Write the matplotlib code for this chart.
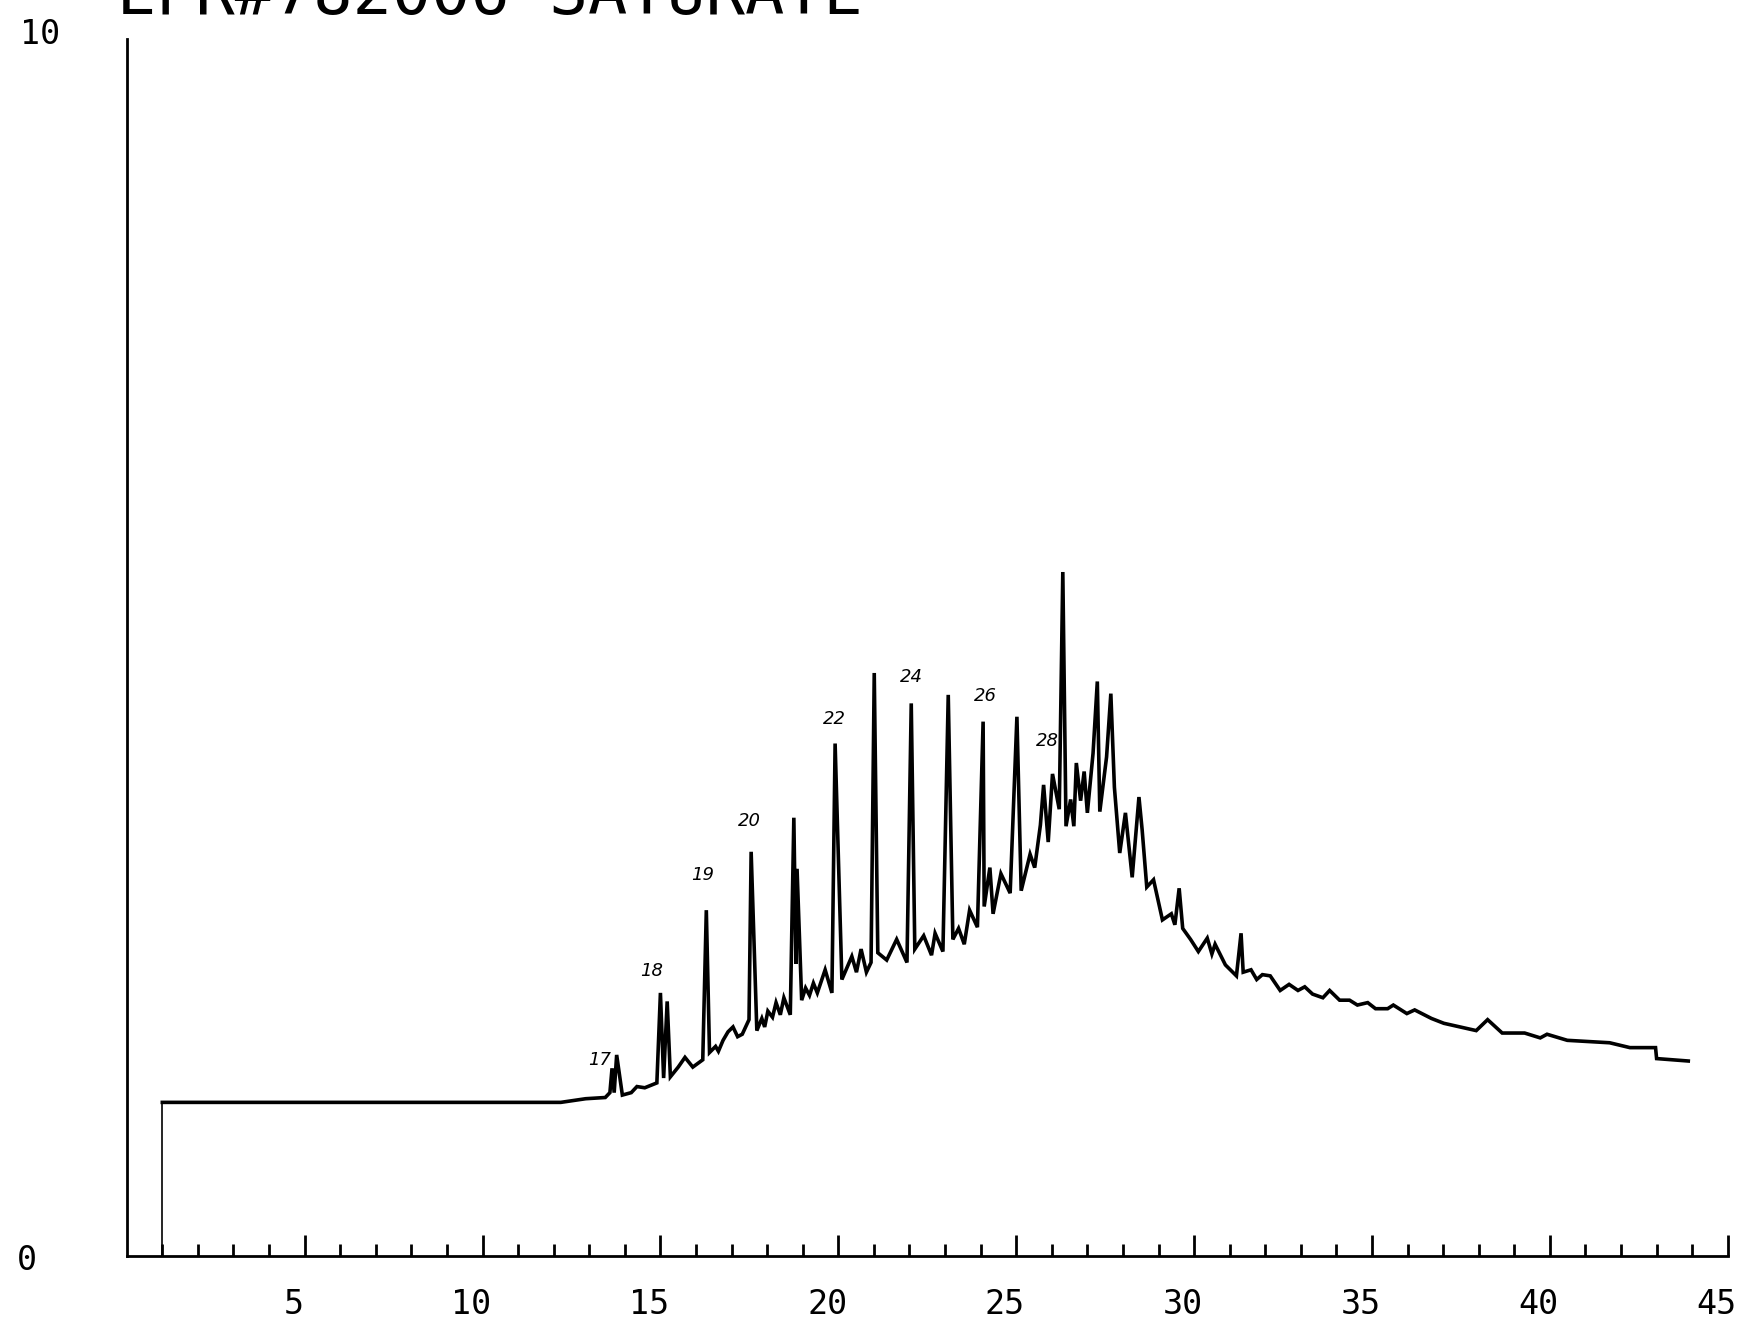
import matplotlib.pyplot as plt
from matplotlib.transforms import ScaledTranslation

# chromatogram trace (time, response)
times = [1.0, 1.0, 12.2, 12.9, 13.45, 13.58, 13.64, 13.7, 13.77, 13.93, 14.18, 14.34, 14.56, 14.9,
         15.0, 15.09, 15.19, 15.28, 15.5, 15.69, 15.91, 16.19, 16.29, 16.38, 16.55, 16.63, 16.76,
         16.9, 17.04, 17.17, 17.3, 17.49, 17.55, 17.71, 17.85, 17.93, 18.02, 18.15, 18.25, 18.37,
         18.47, 18.65, 18.75, 18.81, 18.84, 18.97, 19.08, 19.19, 19.3, 19.41, 19.63, 19.82, 19.91,
         20.1, 20.38, 20.51, 20.64, 20.79, 20.92, 21.01, 21.11, 21.36, 21.64, 21.93, 22.05, 22.15,
         22.4, 22.62, 22.72, 22.94, 23.09, 23.22, 23.38, 23.54, 23.69, 23.91, 24.07, 24.1, 24.26,
         24.35, 24.57, 24.83, 25.02, 25.14, 25.39, 25.52, 25.68, 25.77, 25.9, 26.02, 26.21, 26.31,
         26.4, 26.53, 26.62, 26.69, 26.81, 26.91, 27.0, 27.16, 27.28, 27.35, 27.54, 27.66, 27.76,
         27.91, 28.07, 28.26, 28.45, 28.54, 28.67, 28.86, 29.11, 29.36, 29.46, 29.58, 29.68, 29.9,
         30.12, 30.37, 30.5, 30.59, 30.88, 31.19, 31.32, 31.38, 31.6, 31.76, 31.92, 32.14, 32.42,
         32.67, 32.92, 33.11, 33.33, 33.62, 33.81, 34.09, 34.37, 34.59, 34.88, 35.1, 35.44, 35.6,
         35.98, 36.2, 36.67, 37.02, 37.93, 38.25, 38.66, 39.29, 39.73, 39.92, 40.49, 41.68, 42.25,
         42.97, 43.0, 43.89]
response = [0.0, 1.26, 1.26, 1.29, 1.30, 1.34, 1.54, 1.34, 1.65, 1.32, 1.34, 1.39, 1.38, 1.42,
            2.16, 1.46, 2.09, 1.47, 1.55, 1.63, 1.55, 1.61, 2.84, 1.67, 1.72, 1.68, 1.77,
            1.84, 1.88, 1.80, 1.82, 1.94, 3.32, 1.85, 1.95, 1.88, 2.01, 1.96, 2.08, 1.98,
            2.12, 1.98, 3.60, 2.40, 3.18, 2.10, 2.20, 2.14, 2.24, 2.16, 2.35, 2.16, 4.21,
            2.27, 2.46, 2.33, 2.52, 2.33, 2.41, 4.79, 2.49, 2.43, 2.60, 2.41, 4.54, 2.52,
            2.63, 2.47, 2.65, 2.50, 4.61, 2.60, 2.69, 2.56, 2.84, 2.70, 4.39, 2.87, 3.19,
            2.81, 3.14, 2.98, 4.43, 3.00, 3.30, 3.19, 3.54, 3.87, 3.40, 3.96, 3.67, 5.62,
            3.53, 3.75, 3.53, 4.05, 3.74, 3.98, 3.64, 4.13, 4.72, 3.65, 4.10, 4.62, 3.85,
            3.31, 3.64, 3.11, 3.77, 3.50, 3.03, 3.09, 2.76, 2.81, 2.72, 3.02, 2.69, 2.60,
            2.50, 2.61, 2.48, 2.56, 2.39, 2.30, 2.65, 2.33, 2.35, 2.27, 2.31, 2.30, 2.18,
            2.23, 2.18, 2.21, 2.15, 2.12, 2.18, 2.10, 2.10, 2.06, 2.08, 2.03, 2.03, 2.06,
            1.99, 2.02, 1.95, 1.91, 1.85, 1.94, 1.83, 1.83, 1.79, 1.82, 1.77, 1.75, 1.71,
            1.71, 1.62, 1.60]

# hand written carbon numbers above the n-alkane peaks
peak_names = ['17', '18', '19', '20', '22', '24', '26', '28']
peak_x = [13.3, 14.74, 16.19, 17.49, 19.88, 22.05, 24.13, 25.87]
peak_y = [1.61, 2.34, 3.13, 3.57, 4.41, 4.76, 4.60, 4.23]

x_ticks = [5, 10, 15, 20, 25, 30, 35, 40, 45]
title = 'EPR#782006 SATURATE'
mono = 'DejaVu Sans Mono'

fig = plt.figure(figsize=(17.58, 13.29), dpi=100)
ax = fig.add_axes([0.0721, 0.0552, 0.9107, 0.9153])

# thin injection step, then the trace itself
ax.plot(times[:2], response[:2], color='black', lw=1.2)
ax.plot(times[1:], response[1:], color='black', lw=2.6, solid_joinstyle='miter')

for name, px, py in zip(peak_names, peak_x, peak_y):
    ax.text(px, py, name, fontsize=13, style='italic', ha='center', va='center')

ax.set_xlim(0, 45)
ax.set_ylim(0, 10)
for side in ['top', 'right']:
    ax.spines[side].set_visible(False)
for side in ['left', 'bottom']:
    ax.spines[side].set_linewidth(2)

ax.set_xticks(x_ticks)
ax.set_xticks(range(1, 45), minor=True)
ax.set_xticklabels([str(t) for t in x_ticks], family=mono, fontsize=24)
ax.tick_params(axis='x', which='major', direction='in', length=15, width=2, pad=23)
ax.tick_params(axis='x', which='minor', direction='in', length=8.5, width=2)
ax.set_yticks([])

# plotter labels sit a bit left of their ticks
shift = ScaledTranslation(-8 / 72, 0, fig.dpi_scale_trans)
for lab in ax.get_xticklabels():
    lab.set_transform(lab.get_transform() + shift)

# y axis end values
ax.text(-2.44, 10.04, '10', family=mono, fontsize=24, ha='center', va='center', clip_on=False)
ax.text(-2.81, -0.04, '0', family=mono, fontsize=24, ha='center', va='center', clip_on=False)

# title is cut by the top of the page, as on the scanned plot
fig.text(117 / 1758, 1 - 14 / 1329, title, family=mono, fontsize=47, ha='left', va='baseline')

fig.savefig('out.png', dpi=100)
